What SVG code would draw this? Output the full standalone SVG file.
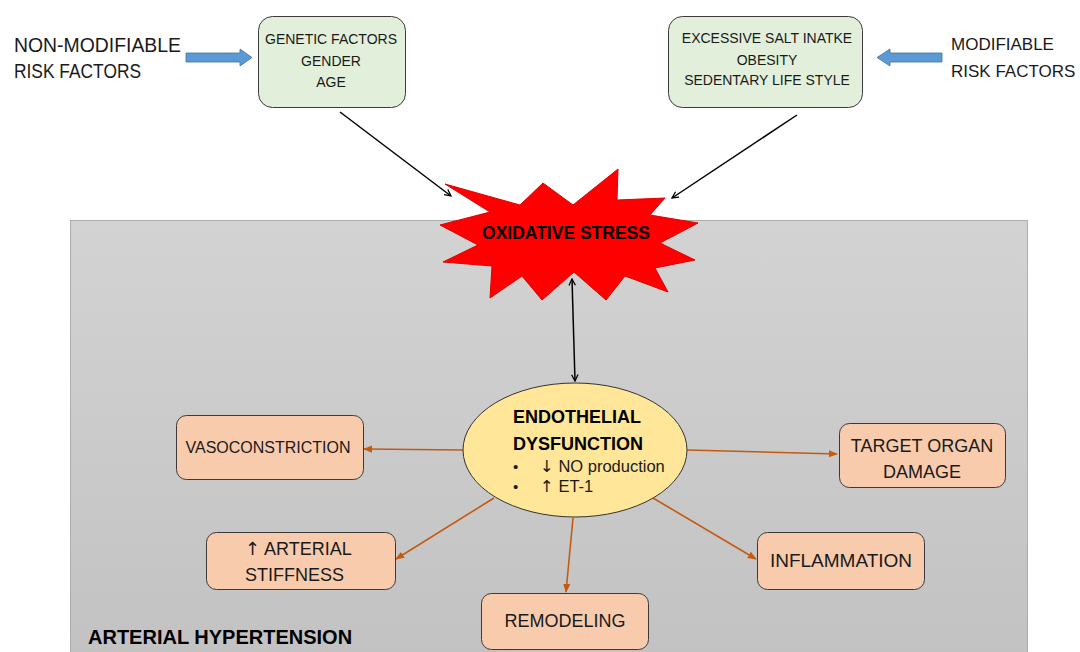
<svg xmlns="http://www.w3.org/2000/svg" width="1080" height="652" viewBox="0 0 1080 652">
<defs>
<linearGradient id="bg" x1="0" y1="0" x2="0" y2="1">
<stop offset="0" stop-color="#d3d3d3"/>
<stop offset="1" stop-color="#c2c2c2"/>
</linearGradient>
<marker id="blk" viewBox="0 0 10 10" refX="9" refY="5" markerWidth="8" markerHeight="8" markerUnits="userSpaceOnUse" orient="auto-start-reverse">
<path d="M1,1 L9,5 L1,9" fill="none" stroke="#000" stroke-width="1.6"/>
</marker>
<marker id="org" viewBox="0 0 10 10" refX="9" refY="5" markerWidth="9" markerHeight="9" markerUnits="userSpaceOnUse" orient="auto">
<path d="M0,1 L10,5 L0,9 Z" fill="#c55a11"/>
</marker>
<style>
text{font-family:"Liberation Sans",Arial,sans-serif;fill:#1a1a1a}
.ar{font-family:"DejaVu Sans",sans-serif}
.grn{fill:#e2efda;stroke:#3a3a3a;stroke-width:1}
.org{fill:#f8cbad;stroke:#3a3a3a;stroke-width:1}
.blue{fill:#5b9bd5;stroke:#41719c;stroke-width:0.8}
.bl{stroke:#000;stroke-width:1.5;fill:none}
.ol{stroke:#c55a11;stroke-width:1.6;fill:none}
.t14{font-size:14px}
.t19{font-size:19.5px}
.t16{font-size:16px}
.t18{font-size:18px}
</style>
</defs>

<rect id="hypertension-area" x="70.5" y="220.5" width="957" height="440" fill="url(#bg)" stroke="#adadad" stroke-width="1"/>

<g id="non-modifiable-label">
<text class="t19" x="14" y="52" textLength="167" lengthAdjust="spacingAndGlyphs">NON-MODIFIABLE</text>
<text class="t19" x="14" y="78" textLength="127" lengthAdjust="spacingAndGlyphs">RISK FACTORS</text>
</g>
<g id="modifiable-label">
<text x="951" y="50" font-size="17">MODIFIABLE</text>
<text x="951" y="77" font-size="17">RISK FACTORS</text>
</g>

<g id="blue-arrows">
<path class="blue" d="M186,53 L240,53 L240,49 L252,57.5 L240,66 L240,62 L186,62 Z"/>
<path class="blue" d="M942,53 L890,53 L890,49 L877,57.5 L890,66 L890,62 L942,62 Z"/>
</g>

<g id="non-modifiable-box">
<rect class="grn" x="258.5" y="16.5" width="147" height="91" rx="14"/>
<text class="t14" x="331" y="44" text-anchor="middle">GENETIC FACTORS</text>
<text class="t14" x="331" y="66" text-anchor="middle">GENDER</text>
<text class="t14" x="331" y="87" text-anchor="middle">AGE</text>
</g>

<g id="modifiable-box">
<rect class="grn" x="668.5" y="16.5" width="194" height="91" rx="14"/>
<text class="t14" x="767" y="43" text-anchor="middle">EXCESSIVE SALT INATKE</text>
<text class="t14" x="767" y="65" text-anchor="middle">OBESITY</text>
<text class="t14" x="767" y="85" text-anchor="middle">SEDENTARY LIFE STYLE</text>
</g>

<g id="oxidative-stress">
<polygon points="445,184 520,205 543,183 573,205 618,169 617,200 665,198 650,215 698,223 660,243 695,260 655,268 668,292 625,276 606,300 574,272 542,300 522,276 490,298 492,266 443,262 478,245 440,225 490,212" fill="#ff0000" stroke="#e00000" stroke-width="1"/>
<text x="566" y="239" text-anchor="middle" font-size="17.5" font-weight="bold" style="fill:#000">OXIDATIVE STRESS</text>
</g>

<g id="connectors">
<line class="bl" x1="340" y1="112" x2="451" y2="196" marker-end="url(#blk)"/>
<line class="bl" x1="797" y1="115" x2="672" y2="198" marker-end="url(#blk)"/>
<line class="bl" x1="572" y1="279" x2="575" y2="381" marker-start="url(#blk)" marker-end="url(#blk)"/>
<line class="ol" x1="463" y1="450" x2="364" y2="449" marker-end="url(#org)"/>
<line class="ol" x1="687" y1="450" x2="837" y2="454" marker-end="url(#org)"/>
<line class="ol" x1="494" y1="498" x2="396" y2="559" marker-end="url(#org)"/>
<line class="ol" x1="573" y1="518" x2="566" y2="592" marker-end="url(#org)"/>
<line class="ol" x1="653" y1="498" x2="756" y2="559" marker-end="url(#org)"/>
</g>

<g id="endothelial-dysfunction">
<ellipse cx="575" cy="450" rx="112" ry="67" fill="#ffe699" stroke="#333" stroke-width="1"/>
<text x="513" y="423" font-size="18" font-weight="bold" style="fill:#000">ENDOTHELIAL</text>
<text x="513" y="450" font-size="18" font-weight="bold" style="fill:#000">DYSFUNCTION</text>
<text x="513" y="472" font-size="15">•</text>
<text x="540" y="472" font-size="16.5"><tspan class="ar">↓</tspan> NO production</text>
<text x="513" y="492" font-size="15">•</text>
<text x="540" y="492" font-size="16.5"><tspan class="ar">↑</tspan> ET-1</text>
</g>

<g id="vasoconstriction">
<rect class="org" x="176.5" y="415.5" width="187" height="64" rx="10"/>
<text class="t16" x="268" y="453" text-anchor="middle">VASOCONSTRICTION</text>
</g>

<g id="target-organ-damage">
<rect class="org" x="839.5" y="423.5" width="166" height="64" rx="10"/>
<text class="t18" x="922" y="452" text-anchor="middle">TARGET ORGAN</text>
<text class="t18" x="922" y="478" text-anchor="middle">DAMAGE</text>
</g>

<g id="arterial-stiffness">
<rect class="org" x="206.5" y="532.5" width="189" height="57" rx="10"/>
<text x="245" y="555" font-size="18"><tspan class="ar">↑</tspan> ARTERIAL</text>
<text x="245" y="581" font-size="18">STIFFNESS</text>
</g>

<g id="inflammation">
<rect class="org" x="757.5" y="532.5" width="167" height="57" rx="10"/>
<text x="841" y="567" font-size="19" text-anchor="middle">INFLAMMATION</text>
</g>

<g id="remodeling">
<rect class="org" x="481.5" y="593.5" width="167" height="56" rx="10"/>
<text x="565" y="627" font-size="18" text-anchor="middle">REMODELING</text>
</g>

<text id="hypertension-label" x="88" y="644" font-size="20" font-weight="bold" style="fill:#000">ARTERIAL HYPERTENSION</text>
</svg>
